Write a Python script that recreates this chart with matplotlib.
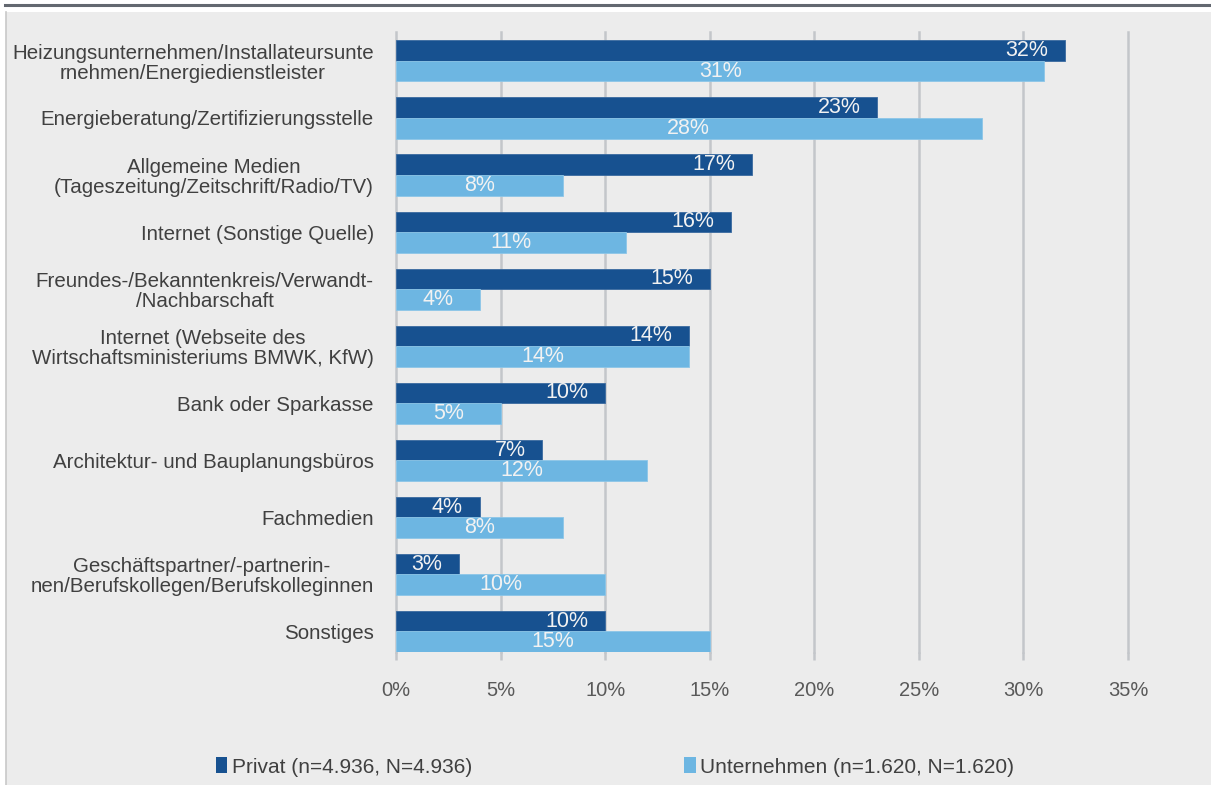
import matplotlib
matplotlib.use("Agg")
import matplotlib.pyplot as plt
from matplotlib.patches import Rectangle, Patch
from matplotlib.lines import Line2D
import numpy as np

plt.rcParams['font.family'] = ['Liberation Sans', 'DejaVu Sans']

# Data
categories = [
    "Heizungsunternehmen/Installateursunte\nrnehmen/Energiedienstleister",
    "Energieberatung/Zertifizierungsstelle",
    "Allgemeine Medien\n(Tageszeitung/Zeitschrift/Radio/TV)",
    "Internet (Sonstige Quelle)",
    "Freundes-/Bekanntenkreis/Verwandt-\n/Nachbarschaft",
    "Internet (Webseite des\nWirtschaftsministeriums BMWK, KfW)",
    "Bank oder Sparkasse",
    "Architektur- und Bauplanungsbüros",
    "Fachmedien",
    "Geschäftspartner/-partnerin-\nnen/Berufskollegen/Berufskolleginnen",
    "Sonstiges",
]
privat = [32, 23, 17, 16, 15, 14, 10, 7, 4, 3, 10]
unternehmen = [31, 28, 8, 11, 4, 14, 5, 12, 8, 10, 15]
series_names = ["Privat (n=4.936, N=4.936)", "Unternehmen (n=1.620, N=1.620)"]
x_ticks = [0, 5, 10, 15, 20, 25, 30, 35]
x_ticklabels = ["0%", "5%", "10%", "15%", "20%", "25%", "30%", "35%"]

DARK = "#175190"
LIGHT = "#6db6e2"
PANEL = "#ececec"
GRID = "#c3c6ca"
TEXT = "#404040"
FS = 14.5

W, H = 1211, 785
fig = plt.figure(figsize=(W / 100, H / 100), dpi=100)
fig.patch.set_facecolor("white")

# background panel and top rule
fig.patches.append(Rectangle((6 / W, 0), 1 - 6 / W, 1 - 12 / H, transform=fig.transFigure,
                             facecolor=PANEL, edgecolor="none", zorder=-10))
fig.lines.append(Line2D([6 / W, 6 / W], [0, 1 - 12 / H], transform=fig.transFigure,
                        color="#c8c8c8", lw=1.2, zorder=-9))
fig.lines.append(Line2D([5 / W, 1], [1 - 5 / H, 1 - 5 / H], transform=fig.transFigure,
                        color="#636870", lw=2.2, zorder=-9))

left_px, right_px = 396, 1128
top_px, bot_px = 32, 652
ax = fig.add_axes([left_px / W, 1 - bot_px / H, (right_px - left_px) / W, (bot_px - top_px) / H])
ax.set_facecolor("none")

n = len(categories)
y = np.arange(n)
bh = 0.36

ax.barh(y - bh / 2, privat, height=bh, color=DARK, edgecolor="#3a6aa0", linewidth=0.6, zorder=3)
ax.barh(y + bh / 2, unternehmen, height=bh, color=LIGHT, edgecolor="#8cc6e8", linewidth=0.6, zorder=3)

ax.set_xlim(0, 35)
ax.set_ylim(n - 1 + bh, -0.507)

for s in ax.spines.values():
    s.set_visible(False)

# vertical gridlines
for t in x_ticks:
    ax.axvline(t, color=GRID, lw=1.8, zorder=1, clip_on=False)

ax.set_xticks(x_ticks)
ax.set_xticklabels(x_ticklabels, fontsize=FS, color="#595959")
ax.tick_params(axis="x", length=6, width=1.8, color=GRID, pad=15)
ax.set_yticks(y)
ax.set_yticklabels(categories, fontsize=14.8, color=TEXT, multialignment="center", linespacing=1.05)
ax.tick_params(axis="y", length=0, pad=16)

# value labels
pad = 0.8
for yi, v in zip(y, privat):
    ax.text(v - pad, yi - bh / 2, f"{v}%", ha="right", va="center", fontsize=15.5,
            color="#f2f2f2", zorder=4)
for yi, v in zip(y, unternehmen):
    ax.text(v / 2, yi + bh / 2, f"{v}%", ha="center", va="center", fontsize=15.5,
            color="#f2f2f2", zorder=4)

handles = [Patch(facecolor=DARK, edgecolor="none"), Patch(facecolor=LIGHT, edgecolor="none")]
fig.legend(handles, series_names, loc="center left", bbox_to_anchor=(216 / W, 1 - 767 / H),
           ncol=2, frameon=False, fontsize=15, labelcolor=TEXT,
           handlelength=0.55, handleheight=0.8, handletextpad=0.2, columnspacing=10.2,
           borderaxespad=0, borderpad=0)

fig.savefig("out.png", dpi=100, facecolor=fig.get_facecolor())
